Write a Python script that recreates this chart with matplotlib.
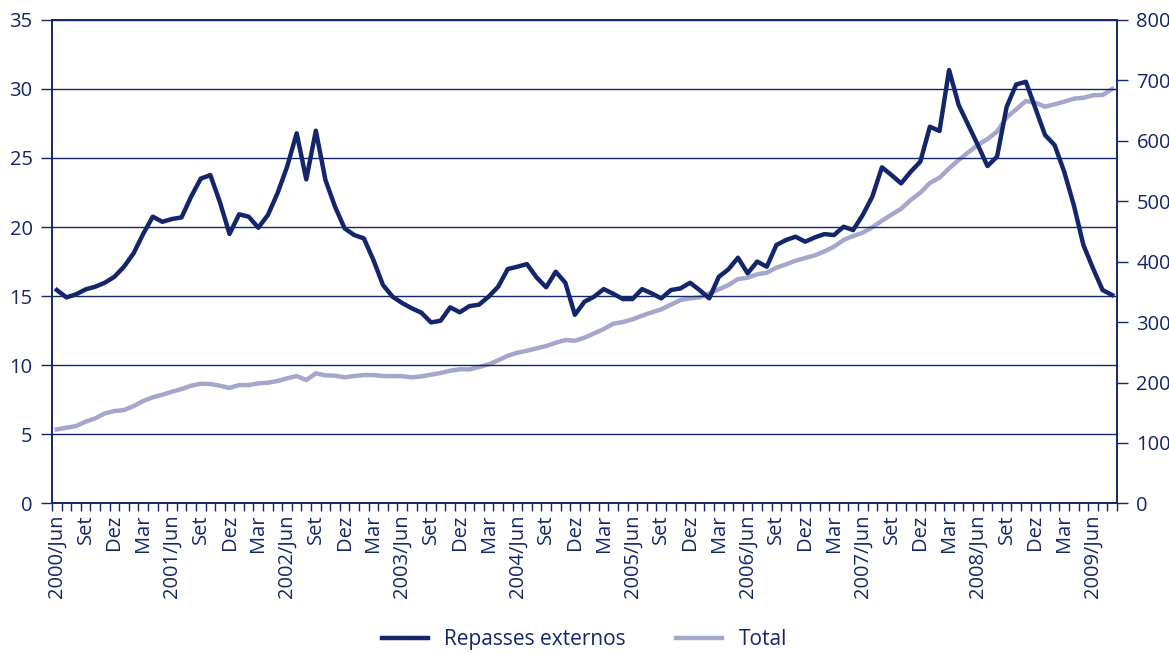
import numpy as np
import matplotlib.pyplot as plt

# monthly series, 2000/Jun .. 2009/Ago
repasses = [
    15.44, 14.91, 15.13, 15.49, 15.68, 15.97, 16.40, 17.13, 18.1, 19.5,
    20.75, 20.38, 20.58, 20.7, 22.2, 23.5, 23.76, 21.8, 19.5, 20.92,
    20.75, 19.95, 20.87, 22.44, 24.36, 26.78, 23.45, 26.97, 23.4, 21.47,
    19.9, 19.42, 19.18, 17.61, 15.8, 14.96, 14.5, 14.12, 13.8, 13.1,
    13.22, 14.19, 13.83, 14.28, 14.38, 14.96, 15.68, 16.96, 17.13, 17.32,
    16.36, 15.64, 16.77, 15.97, 13.65, 14.6, 14.96, 15.51, 15.17, 14.79,
    14.79, 15.51, 15.2, 14.84, 15.44, 15.56, 15.97, 15.44, 14.84, 16.4,
    16.94, 17.78, 16.65, 17.5, 17.13, 18.7, 19.06, 19.3, 18.94, 19.25,
    19.49, 19.42, 20.02, 19.78, 20.87, 22.2, 24.32, 23.76, 23.16, 24.0,
    24.73, 27.26, 26.95, 31.36, 28.83, 27.38, 25.93, 24.41, 25.09, 28.7,
    30.32, 30.51, 28.59, 26.66, 25.93, 24.0, 21.59, 18.7, 17.01, 15.44,
    15.08,
]

total = [
    122.5, 125.3, 128, 135.2, 140.7, 149, 152.8, 154.5, 161, 169.4,
    175.5, 179.8, 184.8, 189.2, 194.7, 198, 197.5, 194.7, 191, 195.8,
    195.8, 198.6, 199.7, 202.5, 206.9, 210.7, 204.1, 215.2, 211.9, 211.3,
    208.6, 210.7, 212.4, 212.4, 210.7, 210.7, 210.5, 208.6, 210.2, 212.9,
    215.7, 219.5, 221.8, 221.8, 225.6, 230, 236.7, 244.3, 249.3, 252.6,
    256.5, 260.3, 265.8, 270.3, 269.1, 274.1, 281.3, 288.4, 297.3, 300,
    304.5, 310.5, 316.1, 321, 328.7, 336.4, 339.2, 340.9, 347.5, 354.1,
    361.2, 371.2, 373.3, 379, 381.6, 389.9, 395.4, 401.5, 405.9, 410.3,
    416.9, 424.6, 435.7, 442.3, 447.8, 456.7, 467.6, 477.5, 487.4, 501.8,
    513.9, 530, 538.8, 554.2, 568, 580.7, 592.8, 602.7, 614.8, 638.6,
    651.8, 665.6, 662.8, 656.2, 660.1, 664.4, 669.4, 671, 675, 675.5,
    685.4,
]

tick_labels = []
for year in range(2000, 2010):
    tick_labels.append(f"{year}/Jun")
    if year < 2009:
        tick_labels += ["Set", "Dez", "Mar"]

navy = "#13266b"
light = "#a4a6cc"

plt.rcParams["font.family"] = ["Open Sans", "DejaVu Sans"]

fig = plt.figure(figsize=(11.69, 6.53), dpi=100)
ax = fig.add_axes([0.0445, 0.229, 0.911, 0.7408])
ax2 = ax.twinx()

x = np.arange(len(repasses))
ax2.plot(x, total, color=light, lw=3.2, label="Total", solid_joinstyle="round")
ax.plot(x, repasses, color=navy, lw=3.2, label="Repasses externos",
        solid_joinstyle="round")

ax.set_zorder(ax2.get_zorder() + 1)
ax.patch.set_visible(False)

ax.set_xlim(-0.5, len(x) - 0.5)
ax.set_ylim(0, 35)
ax2.set_ylim(0, 800)
ax.set_yticks(np.arange(0, 36, 5))
ax2.set_yticks(np.arange(0, 801, 100))

ax.grid(axis="y", color=navy, lw=1)
ax.set_axisbelow(True)

ax.set_xticks(np.arange(-0.5, len(x), 1), minor=True)
ax.set_xticks(np.arange(0, len(x), 3))
ax.set_xticklabels(tick_labels, rotation=90)
ax.tick_params(axis="x", which="major", length=0, pad=8)
ax.tick_params(axis="x", which="minor", length=6, color=navy, width=1)

for a in (ax, ax2):
    for s in a.spines.values():
        s.set_color(navy)
        s.set_linewidth(1.2)
    a.tick_params(colors=navy, labelsize=14.5)
ax.tick_params(axis="y", length=8, width=1, pad=6)
ax2.tick_params(axis="y", length=8, width=1, pad=6)

h1, l1 = ax.get_legend_handles_labels()
h2, l2 = ax2.get_legend_handles_labels()
leg = fig.legend(h1 + h2, l1 + l2, loc="center", bbox_to_anchor=(0.5, 0.02),
                 ncol=2, frameon=False, fontsize=15, handlelength=2.2,
                 columnspacing=2.4)
for t in leg.get_texts():
    t.set_color(navy)

fig.savefig("out.png", dpi=100)
